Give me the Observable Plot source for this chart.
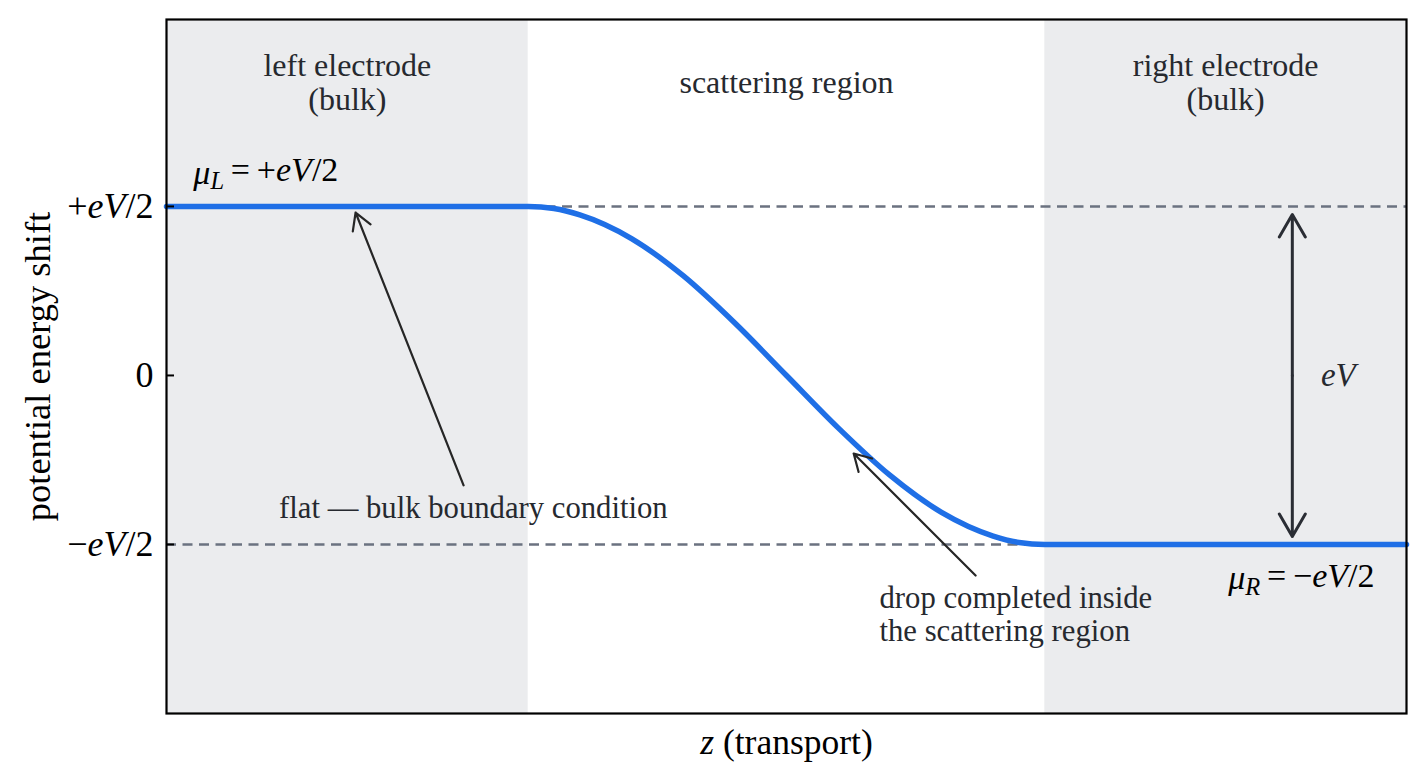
<!DOCTYPE html>
<html>
<head>
<meta charset="utf-8">
<script src="https://cdn.jsdelivr.net/npm/d3@7"></script>
<script src="https://cdn.jsdelivr.net/npm/@observablehq/plot@0.6"></script>
<style>
  html, body { margin: 0; padding: 0; background: #fff; }
  #chart { width: 1425px; height: 781px; }
</style>
</head>
<body>
<div id="chart"></div>
<script>
// ---- data ----
const curveZ = [-1.2, -0.5, -0.45, -0.4, -0.3, -0.2, -0.1, 0.0, 0.1, 0.2, 0.3, 0.4, 0.45, 0.5, 1.2];
const curveU = [0.5, 0.5, 0.494, 0.475, 0.405, 0.295, 0.155, 0.0, -0.155, -0.295, -0.405, -0.475, -0.494, -0.5, -0.5];

const regionNames = ["left electrode\n(bulk)", "scattering region", "right electrode\n(bulk)"];
const regionStart = [-1.2, -0.5, 0.5];
const regionEnd = [-0.5, 0.5, 1.2];
const regionShaded = [true, false, true];

const levelValues = [0.5, -0.5];
const yTickValues = [0.5, 0, -0.5];
const yTickLabels = ["+eV/2", "0", "−eV/2"];

const muLabels = ["μL = +eV/2", "μR = −eV/2"];
const muZ = [-1.148, 0.855];
const muU = [0.60, -0.60];

// annotation arrows (tail -> head)
const annoText = ["flat — bulk boundary condition", "drop completed inside\nthe scattering region"];
const annoTextZ = [-0.606, 0.18];
const annoTextU = [-0.393, -0.705];
const annoTailZ = [-0.625, 0.366];
const annoTailU = [-0.325, -0.592];
const annoHeadZ = [-0.834, 0.130];
const annoHeadU = [0.482, -0.231];

const biasZ = 0.979;
const biasLabelZ = 1.068;

// ---- tables ----
const curve = curveZ.map((z, i) => ({z, u: curveU[i]}));
const regions = regionNames.map((name, i) => ({name, x1: regionStart[i], x2: regionEnd[i], mid: (regionStart[i] + regionEnd[i]) / 2, shaded: regionShaded[i]}));
const mus = muLabels.map((t, i) => ({t, z: muZ[i], u: muU[i]}));
const annos = annoText.map((t, i) => ({t, z: annoTextZ[i], u: annoTextU[i], tz: annoTailZ[i], tu: annoTailU[i], hz: annoHeadZ[i], hu: annoHeadU[i]}));
const biasArrows = levelValues.map(v => ({z: biasZ, u0: 0, u1: v}));

const font = "'Liberation Serif', 'Times New Roman', serif";
const textColor = "#26292f";

const plot = Plot.plot({
  width: 1425,
  height: 781,
  marginLeft: 166,
  marginRight: 19,
  marginTop: 19,
  marginBottom: 68,
  style: {fontFamily: font, background: "white", color: "black"},
  x: {domain: [-1.2, 1.2], axis: null},
  y: {domain: [-1.0, 1.053], axis: null},
  marks: [
    Plot.rect(regions.filter(d => d.shaded), {x1: "x1", x2: "x2", y1: -1.0, y2: 1.053, fill: "#ebecee"}),
    Plot.ruleY(levelValues, {stroke: "#6b7280", strokeWidth: 2.5, strokeDasharray: "10,6.5"}),
    Plot.line(curve, {x: "z", y: "u", stroke: "#1f6fe6", strokeWidth: 5.5, curve: "monotone-x"}),
    Plot.arrow(annos, {x1: "tz", y1: "tu", x2: "hz", y2: "hu", stroke: "#262626", strokeWidth: 2.2, headLength: 13}),
    Plot.arrow(biasArrows, {x1: "z", y1: "u0", x2: "z", y2: "u1", stroke: "#2a2d34", strokeWidth: 3, headLength: 13, insetEnd: 8}),
    Plot.text(regions, {x: "mid", y: 0.867, text: "name", fontSize: 32, lineHeight: 1.04, fill: textColor}),
    Plot.text(annos.slice(0, 1), {x: "z", y: "u", text: "t", fontSize: 30.7, fill: textColor}),
    Plot.text(annos.slice(1), {x: "z", y: "u", text: "t", fontSize: 30.7, lineHeight: 1.07, textAnchor: "start", fill: textColor}),
    Plot.text(mus, {x: "z", y: "u", text: "t", fontSize: 34, textAnchor: "start", fill: "black"}),
    Plot.text(["eV"], {x: biasLabelZ, y: 0, text: d => d, fontSize: 33, fill: textColor}),
    Plot.axisY(yTickValues, {anchor: "left", label: null, tickSize: 0, tickPadding: 13, fontSize: 36, tickFormat: d => yTickLabels[yTickValues.indexOf(d)], fill: "black"}),
    Plot.axisY(yTickValues, {anchor: "left", label: null, tickSize: 8, dx: 8, tickFormat: () => "", stroke: "black", strokeWidth: 2}),
    Plot.text(["potential energy shift"], {frameAnchor: "left", rotate: -90, dx: -128, textAnchor: "middle", lineAnchor: "middle", fontSize: 36.5, fill: "black"}),
    Plot.text(["z (transport)"], {frameAnchor: "bottom", dy: 29, textAnchor: "middle", lineAnchor: "middle", fontSize: 35.5, fill: "black"}),
    Plot.frame({stroke: "black", strokeWidth: 2.2})
  ]
});

document.getElementById("chart").appendChild(plot);

// ---- math-style formatting of the labels (kept as real text) ----
const fmt = {
  "+eV/2": '+<tspan font-style="italic">eV</tspan>/2',
  "−eV/2": '−<tspan font-style="italic">eV</tspan>/2',
  "μL = +eV/2": '<tspan font-style="italic">μ</tspan><tspan font-style="italic" font-size="0.72em" dy="0.22em">L</tspan><tspan dy="-0.22em">\u2009=\u2009+</tspan><tspan font-style="italic">eV</tspan>/2',
  "μR = −eV/2": '<tspan font-style="italic">μ</tspan><tspan font-style="italic" font-size="0.72em" dy="0.22em">R</tspan><tspan dy="-0.22em">\u2009=\u2009−</tspan><tspan font-style="italic">eV</tspan>/2',
  "eV": '<tspan font-style="italic">eV</tspan>',
  "z (transport)": '<tspan font-style="italic">z</tspan> (transport)'
};
plot.querySelectorAll("text").forEach(t => {
  const s = t.textContent;
  if (fmt[s] !== undefined && t.children.length === 0) t.innerHTML = fmt[s];
});
</script>
</body>
</html>
